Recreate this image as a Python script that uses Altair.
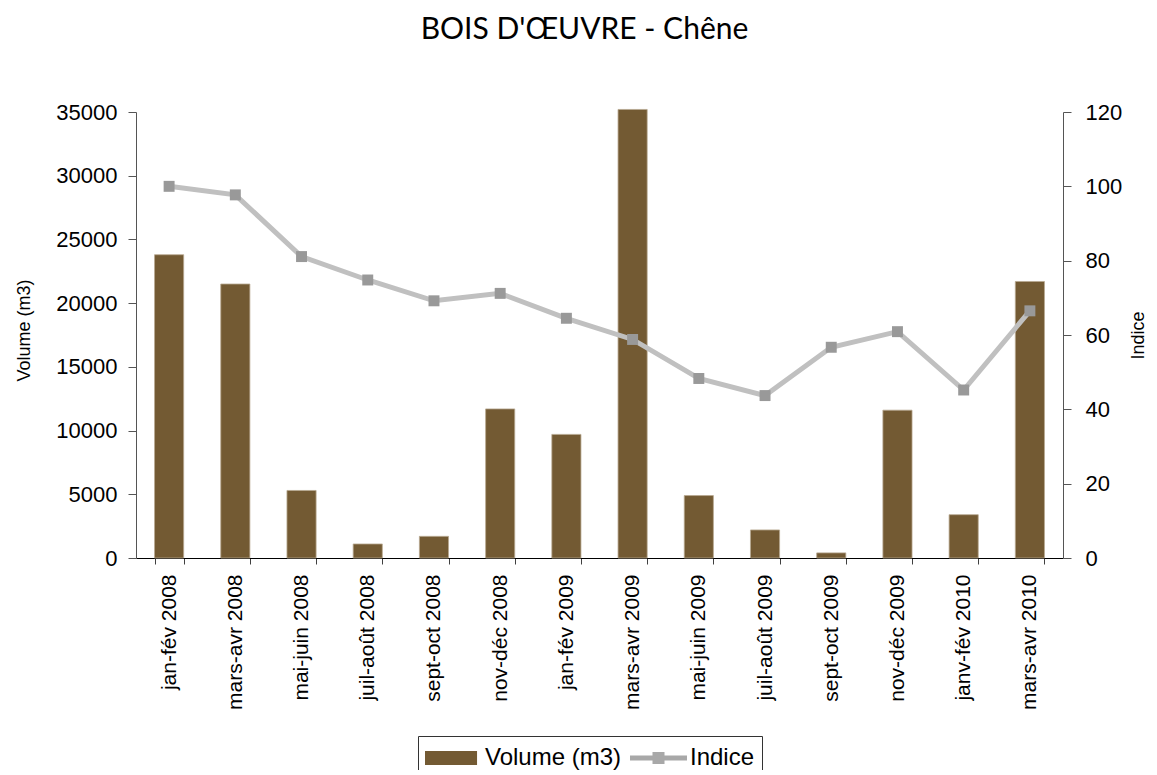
import altair as alt
import pandas as pd

categories = ["jan-fév 2008", "mars-avr 2008", "mai-juin 2008", "juil-août 2008",
              "sept-oct 2008", "nov-déc 2008", "jan-fév 2009", "mars-avr 2009",
              "mai-juin 2009", "juil-août 2009", "sept-oct 2009", "nov-déc 2009",
              "janv-fév 2010", "mars-avr 2010"]
volume = [23800, 21500, 5300, 1100, 1700, 11700, 9700, 35200, 4900, 2200, 400, 11600, 3400, 21700]
indice = [100, 97.7, 81.1, 74.8, 69.2, 71.2, 64.5, 58.8, 48.3, 43.7, 56.7, 60.9, 45.2, 66.5]
series_names = ["Volume (m3)", "Indice"]

df = pd.DataFrame({"cat": categories, "volume": volume, "indice": indice})
legend_df = pd.DataFrame({"cat": categories[:2], "indice": indice[:2], "series": series_names})

FONT = "Liberation Sans"
BROWN = "#735A33"

x_enc = alt.X("cat:N", sort=categories, title=None,
              scale=alt.Scale(paddingInner=0.56, paddingOuter=0.28),
              axis=alt.Axis(labelAngle=-90, tickBand="extent", labelFontSize=21,
                            labelFont=FONT, labelColor="black", labelPadding=10,
                            domainColor="black", tickColor="#404040", tickSize=6,
                            labelBaseline="middle", labelAlign="right"))

bars = alt.Chart(df).mark_bar(color=BROWN, stroke="#B8A890", strokeWidth=0.8).encode(
    x=x_enc,
    y=alt.Y("volume:Q", title="Volume (m3)",
            scale=alt.Scale(domain=[0, 35000], nice=False),
            axis=alt.Axis(values=[0, 5000, 10000, 15000, 20000, 25000, 30000, 35000],
                          format="d",
                          grid=False, labelFontSize=22, labelFont=FONT, labelColor="black",
                          domainColor="#555555", tickColor="#555555", tickSize=8,
                          labelPadding=11, titleFont=FONT, titleFontSize=18,
                          titleFontWeight="normal", titleColor="black",
                          titleX=-103, titleY=218)),
)

y_ind = alt.Y("indice:Q", title="Indice",
              scale=alt.Scale(domain=[0, 120], nice=False),
              axis=alt.Axis(orient="right", values=[0, 20, 40, 60, 80, 100, 120],
                            grid=False, labelFontSize=22, labelFont=FONT, labelColor="black",
                            domainColor="#555555", tickColor="#555555", tickSize=8,
                            labelPadding=14, titleFont=FONT, titleFontSize=18,
                            titleFontWeight="normal", titleColor="black",
                            titleAngle=270, titleBaseline="bottom",
                            titleX=84, titleY=223))

line = alt.Chart(df).mark_line(color="#C0C0C0", strokeWidth=5).encode(
    x=alt.X("cat:N", sort=categories), y=y_ind)
points = alt.Chart(df).mark_point(shape="square", filled=True, size=120,
                                  color="#999999", opacity=1).encode(
    x=alt.X("cat:N", sort=categories), y=alt.Y("indice:Q"))

rect_path = "M-1,-0.47H2.47V0.47H-1Z"
line_path = "M-1,-0.17H2.8V0.17H-1Z M0.5,-0.4H1.3V0.4H0.5Z"

leg = dict(orient="none", legendX=282, legendY=624,
           direction="horizontal", symbolSize=900,
           symbolOpacity=1, symbolStrokeWidth=0,
           labelFont=FONT, labelFontSize=24,
           labelColor="black", columnPadding=8,
           labelOffset=30,
           strokeColor="#333333", padding=7,
           fillColor="white")

legend_layer = alt.Chart(legend_df).mark_point(filled=True, opacity=0).encode(
    x=alt.X("cat:N", sort=categories),
    y=alt.Y("indice:Q"),
    color=alt.Color("series:N", title=None,
                    scale=alt.Scale(domain=series_names, range=[BROWN, "#A8A8A8"]),
                    legend=alt.Legend(**leg)),
    shape=alt.Shape("series:N", title=None,
                    scale=alt.Scale(domain=series_names, range=[rect_path, line_path]),
                    legend=alt.Legend(**leg)),
)

right = alt.layer(line, points, legend_layer)

chart = alt.layer(bars, right).resolve_scale(y="independent").properties(
    width=927, height=446,
    autosize=alt.AutoSizeParams(type="none"),
    padding={"left": 128, "top": 104, "right": 86, "bottom": 212},
    title=alt.TitleParams("BOIS D'ŒUVRE - Chêne", font="Lato", fontSize=30,
                          fontWeight="normal", color="black", anchor="middle",
                          dx=-15, offset=56),
).configure_view(stroke=None).configure_axis(ticks=True)

chart.save("out.html", embed_options={"renderer": "svg", "actions": False})
